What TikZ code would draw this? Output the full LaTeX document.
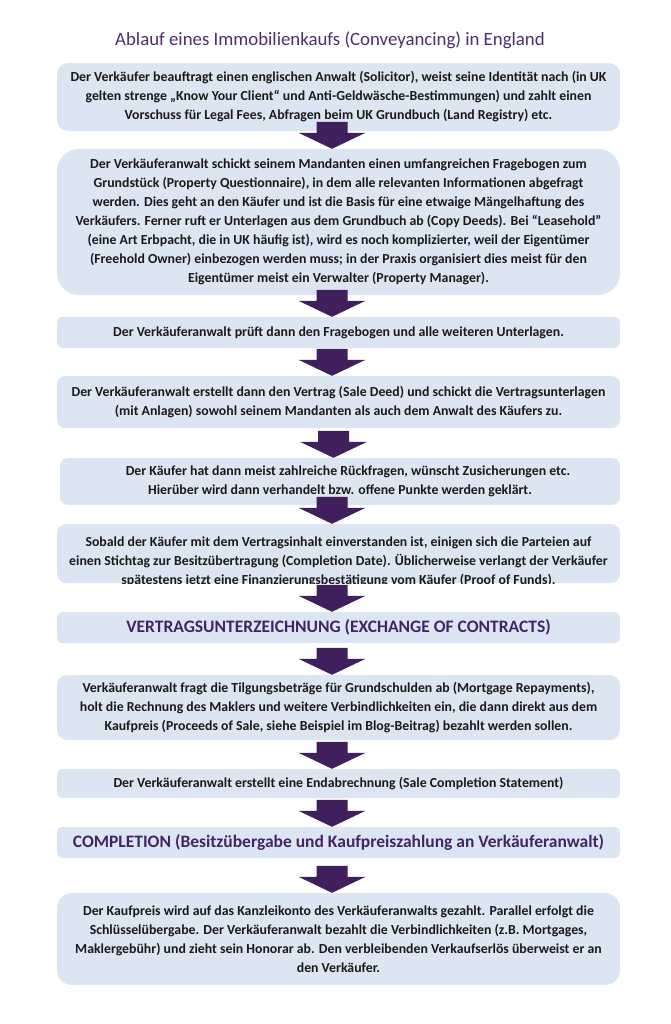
\documentclass[tikz,border=0pt]{standalone}
\usepackage{fontspec}
\setmainfont{Carlito}
\usetikzlibrary{calc}
\definecolor{boxblue}{HTML}{DCE6F2}
\definecolor{arrowpurple}{HTML}{3F1F5C}
\definecolor{titlepurple}{HTML}{4E2D6E}
\definecolor{headpurple}{HTML}{432565}
\definecolor{bodytext}{HTML}{1A1A1A}
\tikzset{
  bodytxt/.style={inner sep=0pt, align=center, text=bodytext, font=\bfseries\fontsize{13.8}{19}\selectfont},
  box/.style={bodytxt, fill=boxblue, rounded corners=#1, minimum width=563pt},
  box/.default=10pt,
  headbox/.style={box=5pt, text=headpurple, font=\bfseries\fontsize{17.5}{20}\selectfont},
  titletxt/.style={inner sep=0pt, text=titlepurple, font=\fontsize{18.8}{22}\selectfont},
}
% arrow whose tip sits on the top of the target node
\newcommand{\flowarrow}[2]{%
  \fill[arrowpurple] ($(#2.north)+(-6.5,0)$) -- ++(33.5,-16) -- ++(-18,0) -- ++(0,-11)
    -- ++(-31,0) -- ++(0,11) -- ++(-18,0) -- cycle;}
\begin{document}
\begin{tikzpicture}[x=1pt,y=-1pt]
\useasboundingbox (0,0) rectangle (670,1024);

\node[titletxt] (title) at (330,40) {Ablauf eines Immobilienkaufs (Conveyancing) in England};

\node[box=11pt, minimum height=68pt] (b1) at (338.5,97) {Der Verkäufer beauftragt einen englischen Anwalt (Solicitor), weist seine Identität nach (in UK\\
gelten strenge „Know Your Client“ und Anti-Geldwäsche-Bestimmungen) und zahlt einen\\
Vorschuss für Legal Fees, Abfragen beim UK Grundbuch (Land Registry) etc.};

\node[box=22pt, minimum height=146pt] (b2) at (338.5,222) {Der Verkäuferanwalt schickt seinem Mandanten einen umfangreichen Fragebogen zum\\
Grundstück (Property Questionnaire), in dem alle relevanten Informationen abgefragt\\
werden. Dies geht an den Käufer und ist die Basis für eine etwaige Mängelhaftung des\\
Verkäufers. Ferner ruft er Unterlagen aus dem Grundbuch ab (Copy Deeds). Bei “Leasehold”\\
(eine Art Erbpacht, die in UK häufig ist), wird es noch komplizierter, weil der Eigentümer\\
(Freehold Owner) einbezogen werden muss; in der Praxis organisiert dies meist für den\\
Eigentümer meist ein Verwalter (Property Manager).};

\node[box=5pt, minimum height=31pt] (b3) at (338.5,332.5) {Der Verkäuferanwalt prüft dann den Fragebogen und alle weiteren Unterlagen.};

\node[box=8pt, minimum height=52pt] (b4) at (338.5,402) {Der Verkäuferanwalt erstellt dann den Vertrag (Sale Deed) und schickt die Vertragsunterlagen\\
(mit Anlagen) sowohl seinem Mandanten als auch dem Anwalt des Käufers zu.};

\node[box=8pt, minimum height=47pt, minimum width=560pt] (b5) at (340,481.5) {\hspace*{16pt}Der Käufer hat dann meist zahlreiche Rückfragen, wünscht Zusicherungen etc.\\
Hierüber wird dann verhandelt bzw. offene Punkte werden geklärt.};

\node[box=9pt, minimum height=59pt] (b6) at (338.5,553.5) {};
\begin{scope}
  \clip[rounded corners=9pt] (b6.north west) rectangle (b6.south east);
  \node[bodytxt] (b6t) at ($(b6.center)+(0,8.5)$) {Sobald der Käufer mit dem Vertragsinhalt einverstanden ist, einigen sich die Parteien auf\\
einen Stichtag zur Besitzübertragung (Completion Date). Üblicherweise verlangt der Verkäufer\\
spätestens jetzt eine Finanzierungsbestätigung vom Käufer (Proof of Funds).};
\end{scope}

\node[headbox, minimum height=31pt] (b7) at (338.5,627.5) {VERTRAGSUNTERZEICHNUNG (EXCHANGE OF CONTRACTS)};

\node[box=10pt, minimum height=65pt] (b8) at (338.5,707.5) {Verkäuferanwalt fragt die Tilgungsbeträge für Grundschulden ab (Mortgage Repayments),\\
holt die Rechnung des Maklers und weitere Verbindlichkeiten ein, die dann direkt aus dem\\
Kaufpreis (Proceeds of Sale, siehe Beispiel im Blog-Beitrag) bezahlt werden sollen.};

\node[box=5pt, minimum height=29pt] (b9) at (338.5,783.5) {Der Verkäuferanwalt erstellt eine Endabrechnung (Sale Completion Statement)};

\node[headbox, minimum height=31pt] (b10) at (338.5,842.5) {COMPLETION (Besitzübergabe und Kaufpreiszahlung an Verkäuferanwalt)};

\node[box=15pt, minimum height=92pt] (b11) at (338.5,939) {Der Kaufpreis wird auf das Kanzleikonto des Verkäuferanwalts gezahlt. Parallel erfolgt die\\
Schlüsselübergabe. Der Verkäuferanwalt bezahlt die Verbindlichkeiten (z.B. Mortgages,\\
Maklergebühr) und zieht sein Honorar ab. Den verbleibenden Verkaufserlös überweist er an\\
den Verkäufer.};

\flowarrow{b1}{b2}
\flowarrow{b2}{b3}
\flowarrow{b3}{b4}
\flowarrow{b4}{b5}
\flowarrow{b5}{b6}
\flowarrow{b6}{b7}
\flowarrow{b7}{b8}
\flowarrow{b8}{b9}
\flowarrow{b9}{b10}
\flowarrow{b10}{b11}
\end{tikzpicture}
\end{document}
